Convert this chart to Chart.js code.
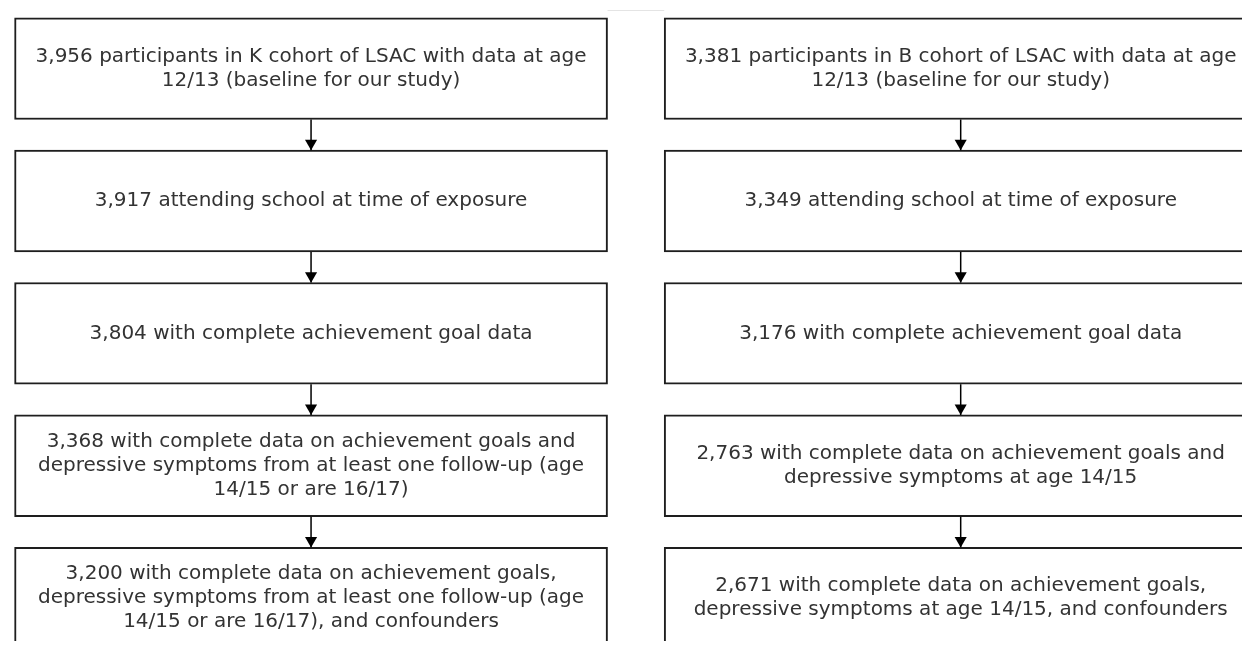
<!DOCTYPE html>
<html>
<head>
<meta charset="utf-8">
<script src="https://cdn.jsdelivr.net/npm/chart.js@4/dist/chart.umd.min.js"></script>
<style>
  html, body { margin: 0; padding: 0; background: #ffffff; overflow: hidden; }
  #wrap { width: 1249px; height: 648px; position: relative; }
</style>
</head>
<body>
<div id="wrap"><canvas id="c"></canvas></div>
<script>
// ---------- data ----------
const cohorts = ['K cohort', 'B cohort'];
const stages = [0, 1, 2, 3, 4];
const kCounts = [3956, 3917, 3804, 3368, 3200];
const bCounts = [3381, 3349, 3176, 2763, 2671];
const kText = [
  ['participants in K cohort of LSAC with data at age', '12/13 (baseline for our study)'],
  ['attending school at time of exposure'],
  ['with complete achievement goal data'],
  ['with complete data on achievement goals and', 'depressive symptoms from at least one follow-up (age', '14/15 or are 16/17)'],
  ['with complete data on achievement goals,', 'depressive symptoms from at least one follow-up (age', '14/15 or are 16/17), and confounders']
];
const bText = [
  ['participants in B cohort of LSAC with data at age', '12/13 (baseline for our study)'],
  ['attending school at time of exposure'],
  ['with complete achievement goal data'],
  ['with complete data on achievement goals and', 'depressive symptoms at age 14/15'],
  ['with complete data on achievement goals,', 'depressive symptoms at age 14/15, and confounders']
];

// ---------- layout (pixels) ----------
const W = 1249, H = 648;
const COL_PX = 657;      // distance between column centres
const STEP_PX = 135.3;   // distance between stage centres
const FIRST_CX = 307.5, FIRST_CY = 63;
const BOX_W = 593, BOX_H = 104;
const HEAD_R = 7;
const HALF = BOX_H / 2 / STEP_PX;

const counts = [kCounts, bCounts];
const texts = [kText, bText];

// boxes as floating bars
const boxData = [];
cohorts.forEach((c, ci) => {
  stages.forEach(s => boxData.push({ x: ci, y: [s - HALF, s + HALF] }));
});

const datasets = [{
  type: 'bar',
  label: 'boxes',
  data: boxData,
  backgroundColor: '#ffffff',
  borderColor: '#1e1e1e',
  borderWidth: 2,
  borderSkipped: false,
  barThickness: BOX_W,
  order: 3
}];

// arrows
const heads = [];
cohorts.forEach((c, ci) => {
  stages.slice(0, -1).forEach(s => {
    datasets.push({
      type: 'line',
      label: 'arrow',
      data: [{ x: ci, y: s + HALF }, { x: ci, y: s + 1 - HALF }],
      borderColor: '#000',
      borderWidth: 1.5,
      pointRadius: 0,
      fill: false,
      order: 2
    });
    heads.push({ x: ci, y: s + 1 - HALF - HEAD_R / STEP_PX });
  });
});
datasets.push({
  type: 'scatter',
  label: 'heads',
  data: heads,
  pointStyle: 'triangle',
  rotation: 180,
  pointRadius: HEAD_R,
  pointBackgroundColor: '#000',
  pointBorderColor: '#000',
  pointBorderWidth: 0,
  order: 1
});

const textPlugin = {
  id: 'boxText',
  beforeDatasetsDraw(chart) {
    const ctx = chart.ctx;
    const xs = chart.scales.x;
    const x0 = xs.getPixelForValue(0) + BOX_W / 2;
    const x1 = xs.getPixelForValue(1) - BOX_W / 2;
    ctx.save();
    ctx.strokeStyle = '#e4e4e4';
    ctx.lineWidth = 1;
    ctx.beginPath();
    ctx.moveTo(x0, 10.5);
    ctx.lineTo(x1, 10.5);
    ctx.stroke();
    ctx.restore();
  },
  afterDatasetsDraw(chart) {
    const ctx = chart.ctx;
    const xs = chart.scales.x, ys = chart.scales.y;
    ctx.save();
    ctx.font = '20px "DejaVu Sans"';
    ctx.fillStyle = '#333333';
    ctx.textAlign = 'center';
    ctx.textBaseline = 'middle';
    const LH = 24;
    cohorts.forEach((c, ci) => {
      stages.forEach(s => {
        const lines = texts[ci][s].slice();
        lines[0] = counts[ci][s].toLocaleString('en-US') + ' ' + lines[0];
        const cx = xs.getPixelForValue(ci);
        const cy = ys.getPixelForValue(s);
        const y0 = cy - (lines.length - 1) * LH / 2;
        lines.forEach((ln, li) => ctx.fillText(ln, cx, y0 + li * LH));
      });
    });
    ctx.restore();
  }
};

new Chart(document.getElementById('c'), {
  type: 'bar',
  data: { datasets },
  options: {
    responsive: true,
    maintainAspectRatio: false,
    animation: false,
    layout: { padding: 0 },
    plugins: { legend: { display: false }, tooltip: { enabled: false } },
    scales: {
      x: {
        type: 'linear', display: false, offset: false,
        min: -FIRST_CX / COL_PX, max: (W - FIRST_CX) / COL_PX
      },
      y: {
        type: 'linear', display: false, reverse: true,
        min: -FIRST_CY / STEP_PX, max: (H - FIRST_CY) / STEP_PX
      }
    }
  },
  plugins: [textPlugin]
});
</script>
</body>
</html>
